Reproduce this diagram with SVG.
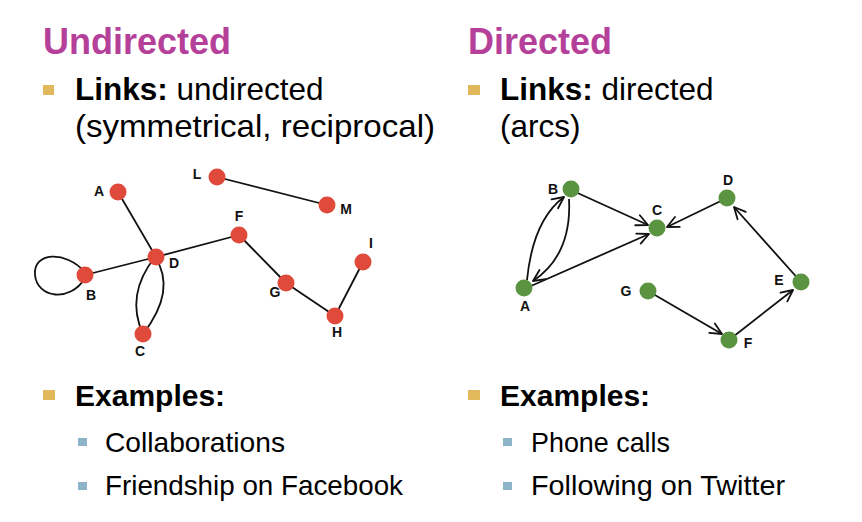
<svg xmlns="http://www.w3.org/2000/svg" width="862" height="522" viewBox="0 0 862 522">
<defs>
<style>
.title{font-family:"Liberation Sans",Arial,sans-serif;font-weight:bold;font-size:36px;fill:#B5409A}
.main{font-family:"Liberation Sans",Arial,sans-serif;font-size:31.5px;fill:#000}
.b{font-weight:bold}
.sub{font-family:"Liberation Sans",Arial,sans-serif;font-size:28px;fill:#000}
.lbl{font-family:"Liberation Sans",Arial,sans-serif;font-weight:bold;font-size:14px;fill:#111;text-anchor:middle}
.bul{fill:#E2B85C}
.sbul{fill:#8DB4C8}
.edge{fill:none;stroke:#111;stroke-width:1.8}
.red{fill:#E04A3A}
.green{fill:#5B9441}
</style>
<marker id="arr" viewBox="0 0 14 14" refX="13" refY="7" markerWidth="14" markerHeight="14" markerUnits="userSpaceOnUse" orient="auto">
<path d="M1.5,1.5 L13,7 L1.5,12.5" fill="none" stroke="#111" stroke-width="1.8" stroke-linecap="round" stroke-linejoin="round"/>
</marker>
</defs>
<rect width="862" height="522" fill="#fff"/>

<g id="text-left">
<text class="title" x="43" y="54">Undirected</text>
<rect class="bul" x="43" y="85" width="11" height="10"/>
<text class="main" x="75" y="100"><tspan class="b">Links:</tspan> undirected</text>
<text class="main" x="75" y="137" textLength="360" lengthAdjust="spacingAndGlyphs">(symmetrical, reciprocal)</text>
<rect class="bul" x="43" y="390" width="12" height="10"/>
<text class="main b" x="75" y="406" style="font-size:30px">Examples:</text>
<rect class="sbul" x="78" y="438" width="9" height="8"/>
<text class="sub" x="105" y="452" textLength="180" lengthAdjust="spacingAndGlyphs">Collaborations</text>
<rect class="sbul" x="78" y="482" width="9" height="8"/>
<text class="sub" x="105" y="495" textLength="298" lengthAdjust="spacingAndGlyphs">Friendship on Facebook</text>
</g>

<g id="text-right">
<text class="title" x="468" y="54">Directed</text>
<rect class="bul" x="468" y="85" width="12" height="10"/>
<text class="main" x="500" y="100"><tspan class="b">Links:</tspan> directed</text>
<text class="main" x="500" y="137">(arcs)</text>
<rect class="bul" x="468" y="390" width="12" height="10"/>
<text class="main b" x="500" y="406" style="font-size:30px">Examples:</text>
<rect class="sbul" x="503" y="438" width="9" height="8"/>
<text class="sub" x="531" y="452" textLength="139" lengthAdjust="spacingAndGlyphs">Phone calls</text>
<rect class="sbul" x="503" y="482" width="9" height="8"/>
<text class="sub" x="531" y="495" textLength="254" lengthAdjust="spacingAndGlyphs">Following on Twitter</text>
</g>

<g id="connectors">
<line class="edge" x1="118" y1="192" x2="156" y2="257"/>
<line class="edge" x1="85" y1="275" x2="156" y2="257"/>
<line class="edge" x1="156" y1="257" x2="239" y2="235"/>
<line class="edge" x1="239" y1="235" x2="286" y2="283"/>
<line class="edge" x1="286" y1="283" x2="335" y2="316"/>
<line class="edge" x1="335" y1="316" x2="363" y2="262"/>
<line class="edge" x1="217" y1="177" x2="327" y2="205"/>
<path class="edge" d="M85,272 C65,250 33,252 35,275 C37,298 70,303 85,278"/>
<path class="edge" d="M155,257 Q125,295 143,334"/>
<path class="edge" d="M155,257 Q177,290 143,334"/>

<path class="edge" d="M527,280 Q533,220 564,197" marker-end="url(#arr)"/>
<path class="edge" d="M569,199 Q572,255 533,281" marker-end="url(#arr)"/>
<line class="edge" x1="571" y1="190" x2="648" y2="225" marker-end="url(#arr)"/>
<line class="edge" x1="531" y1="286" x2="649" y2="234" marker-end="url(#arr)"/>
<line class="edge" x1="727" y1="198" x2="667" y2="227" marker-end="url(#arr)"/>
<line class="edge" x1="801" y1="282" x2="734" y2="207" marker-end="url(#arr)"/>
<line class="edge" x1="648" y1="291" x2="722" y2="334" marker-end="url(#arr)"/>
<line class="edge" x1="729" y1="340" x2="793" y2="290" marker-end="url(#arr)"/>
</g>

<g id="u-A"><circle class="red" cx="118" cy="192" r="8.5"/><text class="lbl" x="99" y="196">A</text></g>
<g id="u-B"><circle class="red" cx="85" cy="275" r="8.5"/><text class="lbl" x="91" y="300">B</text></g>
<g id="u-C"><circle class="red" cx="143" cy="334" r="8.5"/><text class="lbl" x="140" y="355.5">C</text></g>
<g id="u-D"><circle class="red" cx="156" cy="257" r="8.5"/><text class="lbl" x="174" y="268">D</text></g>
<g id="u-F"><circle class="red" cx="239" cy="235" r="8.5"/><text class="lbl" x="239" y="220.5">F</text></g>
<g id="u-G"><circle class="red" cx="286" cy="283" r="8.5"/><text class="lbl" x="275" y="297">G</text></g>
<g id="u-H"><circle class="red" cx="335" cy="316" r="8.5"/><text class="lbl" x="337" y="337">H</text></g>
<g id="u-I"><circle class="red" cx="363" cy="262" r="8.5"/><text class="lbl" x="371" y="248">I</text></g>
<g id="u-L"><circle class="red" cx="217" cy="177" r="8.5"/><text class="lbl" x="197" y="179">L</text></g>
<g id="u-M"><circle class="red" cx="327" cy="205" r="8.5"/><text class="lbl" x="346" y="214">M</text></g>

<g id="d-A"><circle class="green" cx="524" cy="288" r="8.5"/><text class="lbl" x="525" y="311">A</text></g>
<g id="d-B"><circle class="green" cx="571" cy="189" r="8.5"/><text class="lbl" x="553" y="194">B</text></g>
<g id="d-C"><circle class="green" cx="657" cy="228" r="8.5"/><text class="lbl" x="657" y="215">C</text></g>
<g id="d-D"><circle class="green" cx="727" cy="198" r="8.5"/><text class="lbl" x="728" y="185">D</text></g>
<g id="d-E"><circle class="green" cx="801" cy="282" r="8.5"/><text class="lbl" x="779" y="285">E</text></g>
<g id="d-F"><circle class="green" cx="729" cy="340" r="8.5"/><text class="lbl" x="748" y="348">F</text></g>
<g id="d-G"><circle class="green" cx="648" cy="291" r="8.5"/><text class="lbl" x="626" y="296">G</text></g>
</svg>
